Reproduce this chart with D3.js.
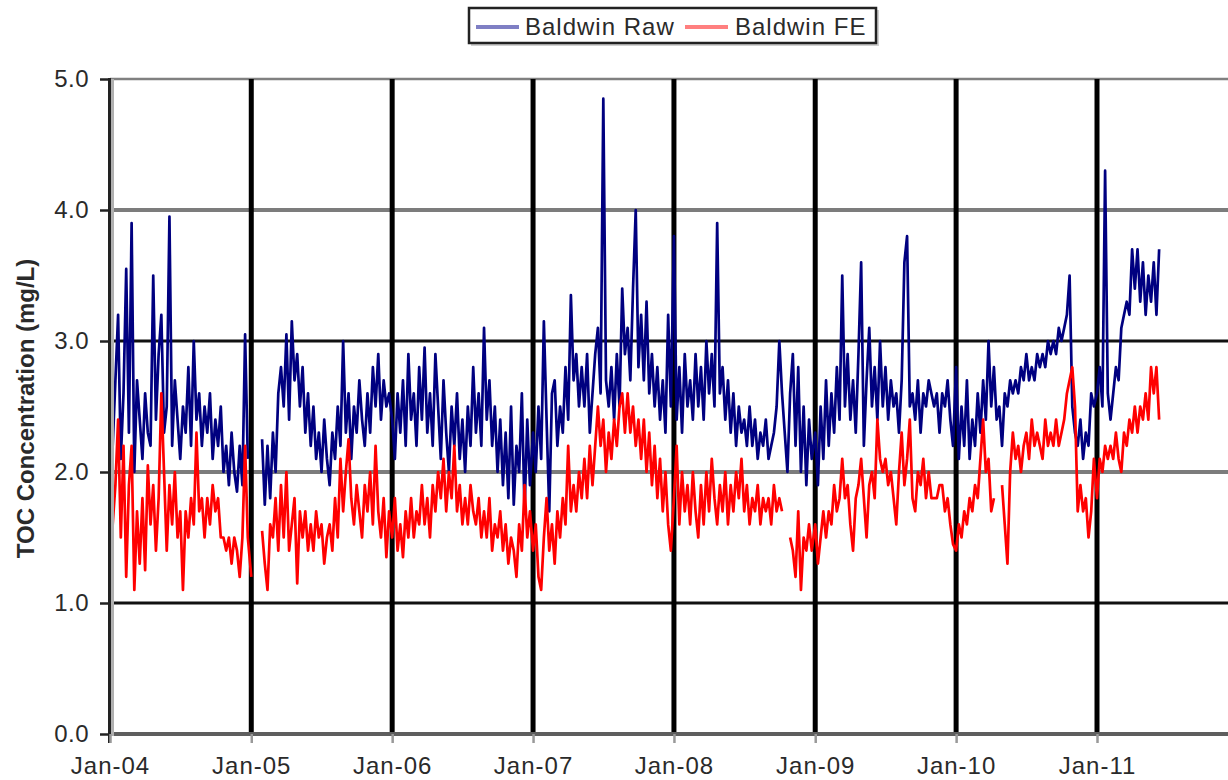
<!DOCTYPE html>
<html>
<head>
<meta charset="utf-8">
<script src="https://cdn.jsdelivr.net/npm/d3@7"></script>
<style>
  body { margin: 0; background: #fff; }
  svg { display: block; }
  text { font-family: "Liberation Sans", Arial, sans-serif; fill: #2a2a2a; }
</style>
</head>
<body>
<svg id="chart" width="1228" height="780"></svg>
<script>
// ---- Data (weekly readings, TOC mg/L) ----
const years = [2004, 2005, 2006, 2007, 2008, 2009, 2010, 2011];
const seriesNames = ["Baldwin Raw", "Baldwin FE"];
const yTickValues = [0, 1, 2, 3, 4, 5];
const xTickLabels = ["Jan-04", "Jan-05", "Jan-06", "Jan-07", "Jan-08", "Jan-09", "Jan-10", "Jan-11"];

const raw2004 = [2.6,2.2,2.7,3.2,2.1,2.6,3.55,2.3,3.9,2.0,2.7,2.4,2.1,2.6,2.3,2.2,3.5,2.4,2.9,3.2,2.3,2.5,3.95,2.2,2.7,2.4,2.1,2.5,2.3,2.8,2.2,3.0,2.4,2.6,2.2,2.5,2.3,2.6,2.1,2.4,2.2,2.5,2.0,2.2,1.9,2.3,2.0,1.85,2.2,1.9,3.05,2.1];
const raw2005 = [null,null,null,null,2.25,1.75,2.2,1.8,2.3,2.0,2.6,2.8,2.5,3.05,2.4,3.15,2.7,2.9,2.5,2.8,2.3,2.6,2.2,2.5,2.1,2.3,2.0,2.4,2.1,1.9,2.3,2.1,2.5,2.2,3.0,2.3,2.6,2.1,2.5,2.3,2.7,2.4,2.2,2.6,2.3,2.8,2.5,2.9,2.4,2.7,2.5,2.6];
const raw2006 = [2.4,2.1,2.6,2.3,2.7,2.2,2.9,2.4,2.6,2.2,2.8,2.4,2.95,2.3,2.6,2.2,2.9,2.5,2.1,2.7,2.3,2.0,2.5,2.2,2.6,2.1,2.4,2.0,2.5,2.2,2.8,2.3,2.6,2.2,3.1,2.4,2.7,2.2,2.5,2.0,2.4,1.9,2.3,1.8,2.5,1.75,2.2,2.0,2.6,1.7,2.4,1.9];
const raw2007 = [2.3,2.0,2.5,2.1,3.15,2.4,1.7,2.6,2.7,2.2,2.5,2.3,2.8,2.4,3.35,2.7,2.9,2.5,2.8,2.5,2.9,2.3,2.6,2.9,3.1,2.6,4.85,2.7,2.5,2.8,2.4,2.9,2.5,3.4,2.9,3.1,2.7,3.4,4.0,2.8,3.2,2.7,3.3,2.6,2.9,2.5,2.8,2.4,2.7,2.3,3.2,2.5];
const raw2008 = [3.8,2.4,2.8,2.3,2.9,2.5,2.7,2.4,2.9,2.5,2.8,2.4,3.0,2.6,2.9,2.5,3.9,2.6,2.8,2.4,2.7,2.3,2.6,2.2,2.5,2.3,2.4,2.2,2.5,2.2,2.4,2.1,2.3,2.2,2.4,2.1,2.2,2.3,2.5,3.0,2.6,2.3,2.0,2.6,2.9,2.2,2.8,2.0,2.5,1.9,2.4,2.1];
const raw2009 = [2.3,1.9,2.5,2.1,2.7,2.2,2.6,2.3,2.8,2.4,3.5,2.5,2.9,2.4,2.7,2.3,2.9,3.6,2.2,2.7,3.1,2.5,2.8,2.4,3.0,2.5,2.8,2.4,2.7,2.5,2.6,2.3,2.7,3.6,3.8,2.5,2.6,2.4,2.7,2.3,2.6,2.5,2.7,2.6,2.5,2.6,2.3,2.6,2.5,2.7,2.4,2.2];
const raw2010 = [2.8,2.1,2.5,2.2,2.7,2.1,2.4,2.2,2.6,2.3,2.7,2.4,3.0,2.5,2.8,2.4,2.5,2.2,2.6,2.5,2.7,2.6,2.7,2.6,2.8,2.7,2.9,2.7,2.8,2.7,2.9,2.8,2.9,2.8,3.0,2.9,3.0,2.9,3.1,3.0,3.1,3.2,3.5,2.5,2.3,2.2,2.4,2.1,2.3,2.2,2.6,2.5];
const raw2011 = [2.6,2.8,2.5,4.3,2.6,2.4,2.6,2.8,2.7,3.1,3.2,3.3,3.2,3.7,3.4,3.7,3.3,3.6,3.2,3.5,3.3,3.6,3.2,3.7];

const fe2004 = [1.0,1.6,1.9,2.4,1.5,2.2,1.2,1.9,2.2,1.1,1.7,1.3,1.8,1.25,2.05,1.6,1.9,1.4,1.8,2.6,2.0,1.4,1.9,1.6,2.0,1.5,1.7,1.1,1.7,1.5,1.8,1.6,2.3,1.7,1.8,1.5,1.8,1.6,1.9,1.7,1.8,1.5,1.5,1.4,1.5,1.3,1.5,1.4,1.2,1.5,2.2,1.5];
const fe2005 = [1.2,null,null,null,1.55,1.3,1.1,1.6,1.5,1.8,1.4,1.9,1.5,2.0,1.4,1.6,1.8,1.15,1.7,1.5,1.7,1.4,1.6,1.4,1.7,1.5,1.6,1.3,1.5,1.6,1.4,1.8,1.5,2.1,1.7,2.0,2.25,1.8,1.6,1.9,1.7,1.5,1.9,1.7,2.0,1.6,2.2,1.7,1.5,1.8,1.35,1.7];
const fe2006 = [1.5,1.8,1.4,1.6,1.35,1.7,1.5,1.8,1.5,1.7,1.6,1.9,1.6,1.8,1.5,1.9,1.7,2.0,1.8,2.1,1.7,2.0,1.8,2.2,1.7,1.9,1.6,1.8,1.6,1.9,1.7,1.6,1.8,1.5,1.7,1.5,1.8,1.4,1.6,1.5,1.7,1.4,1.6,1.3,1.5,1.4,1.2,1.6,1.4,1.9,1.5,1.7];
const fe2007 = [1.4,1.6,1.2,1.1,1.5,1.8,1.4,1.6,1.3,1.7,1.5,1.8,1.6,2.2,1.7,1.9,1.7,2.0,1.8,2.1,1.8,2.2,1.9,2.2,2.5,2.2,2.4,2.0,2.3,2.1,2.4,2.2,2.5,2.6,2.3,2.6,2.3,2.5,2.2,2.4,2.1,2.4,2.0,2.3,1.9,2.2,1.8,2.1,1.7,2.0,1.6,1.4];
const fe2008 = [1.8,2.2,1.6,2.0,1.7,1.9,1.6,2.0,1.7,1.5,1.9,1.6,2.0,1.7,2.1,1.8,1.6,1.9,1.7,2.0,1.6,1.9,1.7,2.0,1.8,2.1,1.7,1.9,1.6,1.8,1.7,1.9,1.6,1.8,1.7,1.8,1.6,1.9,1.7,1.8,1.7,null,null,1.5,1.4,1.2,1.7,1.1,1.5,1.4,1.6,1.4];
const fe2009 = [1.6,1.3,1.5,1.7,1.5,1.7,1.6,1.9,1.7,1.8,2.1,1.8,1.9,1.6,1.4,1.8,1.9,2.1,1.8,1.5,1.9,2.0,1.8,2.4,2.1,2.0,2.1,1.9,2.0,1.8,1.6,2.0,2.3,1.9,2.1,2.4,1.8,1.7,2.0,1.9,2.1,1.8,2.0,1.8,1.8,1.8,1.9,1.9,1.7,1.8,1.6,1.45];
const fe2010 = [1.4,1.6,1.5,1.7,1.6,1.8,1.7,1.9,1.8,2.1,2.4,2.0,2.1,1.7,1.8,null,null,1.9,1.6,1.3,2.0,2.3,2.1,2.2,2.0,2.2,2.3,2.1,2.4,2.2,2.3,2.2,2.1,2.4,2.2,2.3,2.2,2.4,2.2,2.3,2.4,2.6,2.7,2.8,2.5,1.7,1.9,1.7,1.8,1.5,1.7,2.1];
const fe2011 = [1.8,2.1,2.0,2.2,2.1,2.2,2.1,2.3,2.1,2.0,2.3,2.2,2.4,2.3,2.5,2.3,2.5,2.4,2.6,2.4,2.8,2.6,2.8,2.4];

const rawYears = [raw2004, raw2005, raw2006, raw2007, raw2008, raw2009, raw2010, raw2011];
const feYears = [fe2004, fe2005, fe2006, fe2007, fe2008, fe2009, fe2010, fe2011];

// ---- Build series (each year's readings are weekly from Jan 1) ----
function buildSeries(arrs) {
  const out = [];
  arrs.forEach((arr, k) => {
    arr.forEach((v, i) => out.push({ date: d3.timeDay.offset(new Date(years[k], 0, 1), 7 * i), value: v }));
  });
  return out;
}
const rawData = buildSeries(rawYears);
const feData = buildSeries(feYears);

// ---- Layout ----
const pL = 110, pR = 1228, pT = 79, pB = 734;
const svg = d3.select("#chart");

const x = d3.scaleTime()
  .domain([new Date(2004, 0, 1), new Date(2011, 0, 1)])
  .range([pL, 1097]);
const y = d3.scaleLinear().domain([0, 5]).range([pB, pT]);
const xTickDates = years.map(yr => new Date(yr, 0, 1));

// Horizontal gridlines
const hStyle = v => v === 0 ? { c: "#5e5e5e", w: 4 }
  : v === 5 ? { c: "#808080", w: 2.5 }
  : (v % 2 === 0 ? { c: "#7c7c7c", w: 4 } : { c: "#111", w: 3 });
svg.append("g").selectAll("line").data(yTickValues.filter(v => v > 0)).join("line")
  .attr("x1", pL).attr("x2", pR)
  .attr("y1", d => y(d)).attr("y2", d => y(d))
  .attr("stroke", d => hStyle(d).c).attr("stroke-width", d => hStyle(d).w);

// Vertical gridlines
svg.append("g").selectAll("line").data(xTickDates.slice(1)).join("line")
  .attr("x1", d => x(d)).attr("x2", d => x(d))
  .attr("y1", pT).attr("y2", pB)
  .attr("stroke", "#000").attr("stroke-width", 5);

// Series
const line = d3.line()
  .defined(d => d.value != null)
  .x(d => x(d.date)).y(d => y(d.value));

svg.append("path").datum(rawData)
  .attr("fill", "none").attr("stroke", "#000080").attr("stroke-width", 2.7)
  .attr("stroke-linejoin", "round").attr("d", line);
svg.append("path").datum(feData)
  .attr("fill", "none").attr("stroke", "#ff0000").attr("stroke-width", 2.7)
  .attr("stroke-linejoin", "round").attr("d", line);

// Zero line (axis) on top
const zs = hStyle(0);
svg.append("line").attr("x1", pL).attr("x2", pR)
  .attr("y1", y(0)).attr("y2", y(0))
  .attr("stroke", zs.c).attr("stroke-width", zs.w);

// Left axis
const yAxis = d3.axisLeft(y).tickValues(yTickValues).tickFormat(d3.format(".1f"))
  .tickSize(10).tickPadding(11);
const gy = svg.append("g").attr("transform", `translate(${pL},0)`).call(yAxis);
gy.select(".domain").remove();
gy.selectAll(".tick line").attr("stroke", "#222").attr("stroke-width", 2.5);
gy.selectAll(".tick text").attr("font-size", 24).attr("fill", "#2a2a2a")
  .attr("font-family", "Liberation Sans, Arial, sans-serif").style("letter-spacing", "0.5px");

svg.append("line").attr("x1", pL + 2.5).attr("x2", pL + 2.5).attr("y1", pT).attr("y2", pB + 2)
  .attr("stroke", "#b0b0b0").attr("stroke-width", 3);
svg.append("line").attr("x1", pL - 0.5).attr("x2", pL - 0.5).attr("y1", pT - 1).attr("y2", pB + 9)
  .attr("stroke", "#222").attr("stroke-width", 3);

// Bottom axis
const xAxis = d3.axisBottom(x).tickValues(xTickDates)
  .tickFormat((d, i) => xTickLabels[i]).tickSize(9).tickPadding(14);
const gx = svg.append("g").attr("transform", `translate(0,${pB})`).call(xAxis);
gx.select(".domain").remove();
gx.selectAll(".tick line").attr("stroke", "#999").attr("stroke-width", 2.5);
gx.selectAll(".tick text").attr("font-size", 24).attr("fill", "#2a2a2a")
  .attr("font-family", "Liberation Sans, Arial, sans-serif").style("letter-spacing", "1px");

// Y axis title
svg.append("text")
  .attr("transform", `translate(34,${(pT + pB) / 2 + 2}) rotate(-90)`)
  .attr("text-anchor", "middle").attr("font-size", 24).attr("font-weight", "bold")
  .text("TOC Concentration (mg/L)");

// Legend
const lg = svg.append("g");
lg.append("rect").attr("x", 471).attr("y", 10).attr("width", 408).attr("height", 36).attr("fill", "#d0d0d0");
lg.append("rect").attr("x", 469).attr("y", 8).attr("width", 407).attr("height", 35)
  .attr("fill", "#fff").attr("stroke", "#222").attr("stroke-width", 2.5);
const legendItems = [
  { name: seriesNames[0], color: "#7f7fc4", x: 476, tx: 525 },
  { name: seriesNames[1], color: "#ff7f7f", x: 685, tx: 735 }
];
legendItems.forEach(it => {
  lg.append("line").attr("x1", it.x).attr("x2", it.x + 43).attr("y1", 27).attr("y2", 27)
    .attr("stroke", it.color).attr("stroke-width", 4);
  lg.append("text").attr("x", it.tx).attr("y", 35).attr("font-size", 24)
    .style("letter-spacing", "1px").text(it.name);
});
</script>
</body>
</html>
